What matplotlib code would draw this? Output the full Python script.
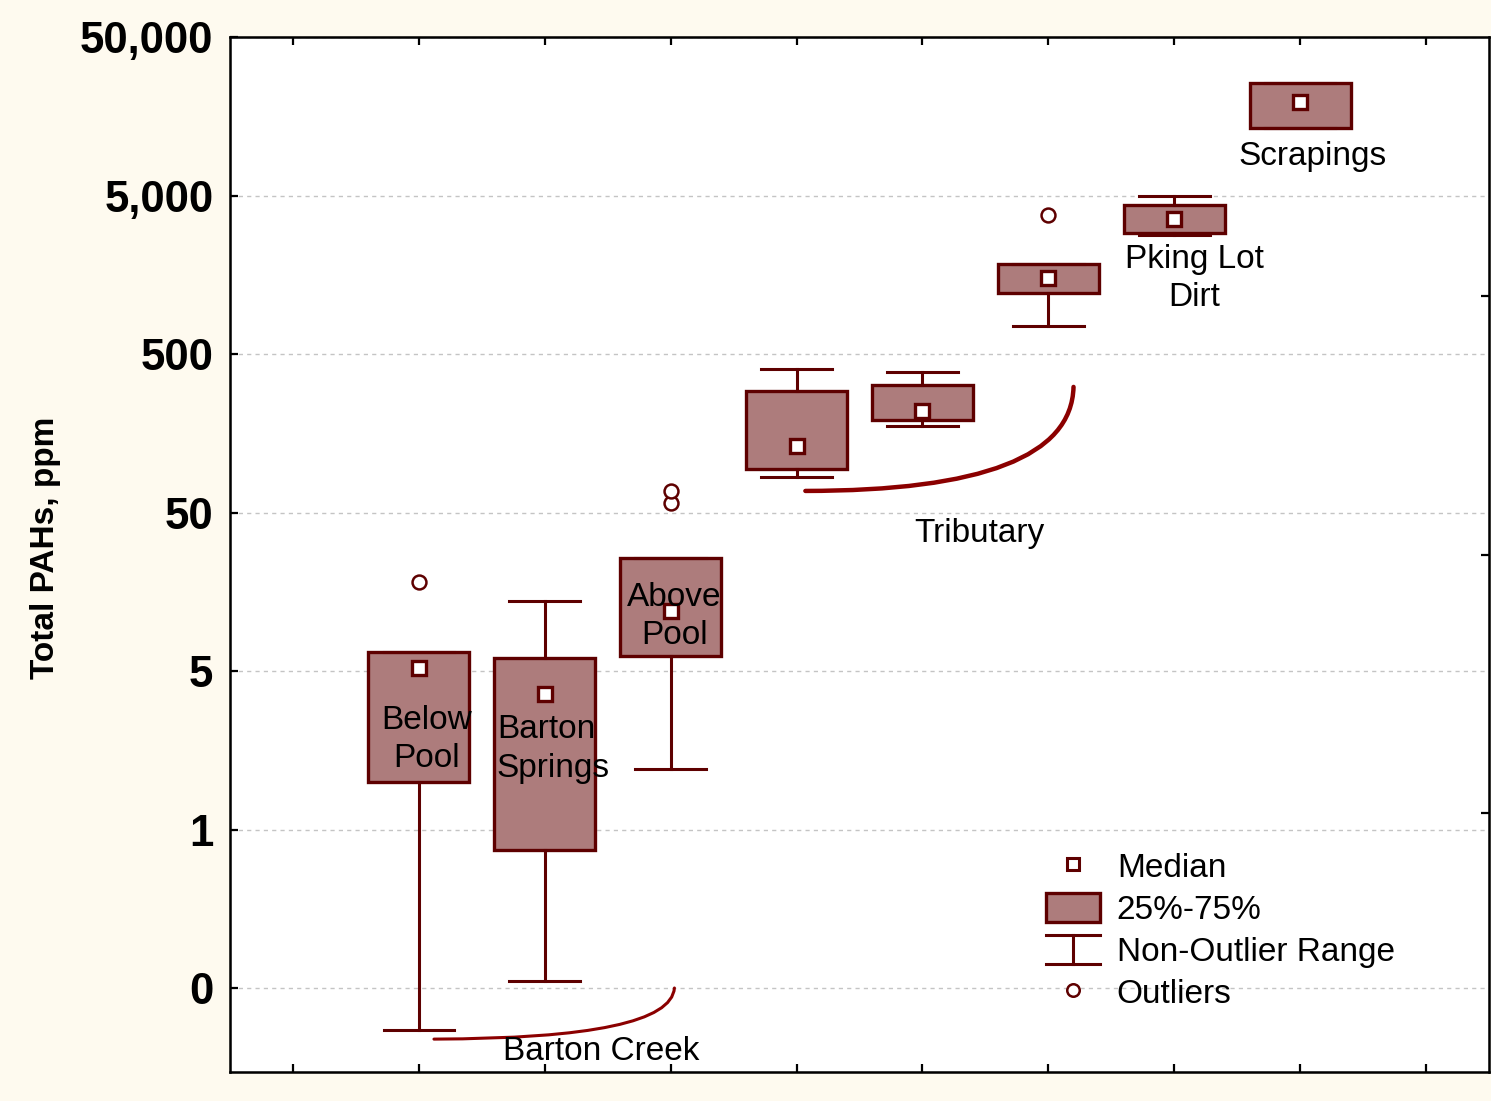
import matplotlib
matplotlib.use("Agg")
import matplotlib.pyplot as plt
from matplotlib.lines import Line2D
from matplotlib.patches import Patch, PathPatch
from matplotlib.path import Path
from matplotlib.legend_handler import HandlerBase
from matplotlib.ticker import FixedLocator, FixedFormatter, NullLocator

plt.rcParams['font.family'] = ['Liberation Sans', 'DejaVu Sans']

# Datos (ppm)
positions = [1, 2, 3, 4, 5, 6, 7, 8]
q1 = [1.0, 0.37, 6.2, 94, 192, 1213, 2900, 13300]
q3 = [6.6, 6.0, 25.8, 292, 319, 1849, 4355, 25600]
medians = [5.2, 3.6, 12.0, 131, 218, 1507, 3555, 19450]
whis_lo = [0.027, 0.055, 1.2, 84, 176, 751, 2820, 13300]
whis_hi = [6.6, 13.8, 25.8, 402, 385, 1849, 4966, 25600]
outliers = [[18.2], [], [57.4, 68.4], [], [], [3770], [], []]

ytick_vals = [0.05, 0.5, 5, 50, 500, 5000, 50000]
ytick_labels = ["0", "1", "5", "50", "500", "5,000", "50,000"]

# etiquetas: (texto, x, y, alineacion)
labels = [
    ("Below\nPool", 1.06, 1.85, "center"),
    ("Barton\nSprings", 1.62, 1.61, "left"),
    ("Above\nPool", 3.03, 11.1, "center"),
    ("Tributary", 5.45, 37.0, "center"),
    ("Pking Lot\nDirt", 7.16, 1500, "center"),
    ("Scrapings", 8.10, 8800, "center"),
    ("Barton Creek", 2.45, 0.0198, "center"),
]
# llaves curvas: (inicio, control, fin, grosor)
brackets = [
    ((1.12, 0.0238), (3.0, 0.024), (3.03, 0.05), 2.2),
    ((4.07, 68.4), (6.18, 68.4), (6.20, 310), 3.2),
]

EDGE = "#5e0000"
FILL = "#ad7c7c"
CURVE = "#8b0000"
TXT = 24

fig = plt.figure(figsize=(14.91, 11.01), dpi=100)
fig.patch.set_facecolor("#fefaef")
ax = fig.add_axes([230 / 1491, 1 - 1072 / 1101, 1259 / 1491, 1035 / 1101])
ax.set_facecolor("white")

stats = []
for i in range(len(positions)):
    stats.append({"med": medians[i], "q1": q1[i], "q3": q3[i],
                  "whislo": whis_lo[i], "whishi": whis_hi[i],
                  "fliers": outliers[i], "mean": medians[i]})

ax.bxp(stats, positions=positions, widths=0.8, patch_artist=True,
       showmeans=True, showfliers=True,
       boxprops=dict(facecolor=FILL, edgecolor=EDGE, linewidth=2.4),
       whiskerprops=dict(color=EDGE, linewidth=2.2),
       capprops=dict(color=EDGE, linewidth=2.2),
       capwidths=0.56,
       medianprops=dict(linewidth=0),
       meanprops=dict(marker="s", markersize=10, markerfacecolor="white",
                      markeredgecolor=EDGE, markeredgewidth=2.4),
       flierprops=dict(marker="o", markersize=10, markerfacecolor="white",
                       markeredgecolor=EDGE, markeredgewidth=1.8))

ax.set_yscale("log")
ax.set_ylim(0.01476, 50000)
ax.set_xlim(-0.5, 9.5)
ax.yaxis.set_major_locator(FixedLocator(ytick_vals))
ax.yaxis.set_major_formatter(FixedFormatter(ytick_labels))
ax.yaxis.set_minor_locator(NullLocator())
ax.set_xticks(range(10))
ax.set_xticklabels([])
ax.tick_params(axis="y", direction="in", length=6, width=1.6, pad=12,
               labelsize=31.5, left=True, right=False)
ax.tick_params(axis="x", direction="in", length=6, width=1.6,
               top=True, bottom=True)
for lab in ax.get_yticklabels():
    lab.set_fontweight("bold")
for s in ax.spines.values():
    s.set_linewidth(1.8)

ax.grid(axis="y", color="#c4c4c4", linestyle=(0, (3, 3)), linewidth=1)
ax.set_axisbelow(True)

ax.set_ylabel("Total PAHs, ppm", fontsize=24, fontweight="bold")
ax.yaxis.set_label_coords(-0.134, 0.506)

# marcas del eje derecho
ax2 = ax.twinx()
ax2.set_ylim(0, 4)
ax2.set_yticks([1, 2, 3])
ax2.set_yticklabels([])
ax2.tick_params(axis="y", direction="in", length=6, width=1.6)

for txt, x, y, ha in labels:
    ax.text(x, y, txt, ha=ha, va="center", fontsize=TXT, color="black",
            linespacing=1.3, zorder=5)

for p0, p1, p2, lw in brackets:
    path = Path([p0, p1, p2], [Path.MOVETO, Path.CURVE3, Path.CURVE3])
    ax.add_patch(PathPatch(path, facecolor="none", edgecolor=CURVE,
                           linewidth=lw, capstyle="round", zorder=4))


class WhiskerHandler(HandlerBase):
    def create_artists(self, legend, orig_handle, xdescent, ydescent,
                       width, height, fontsize, trans):
        x0, x1 = -xdescent, -xdescent + width
        y0, y1 = -ydescent, -ydescent + height
        xm = (x0 + x1) / 2
        arts = [Line2D([x0, x1], [y0, y0]), Line2D([x0, x1], [y1, y1]),
                Line2D([xm, xm], [y0, y1])]
        for a in arts:
            a.set_color(EDGE)
            a.set_linewidth(2.2)
            a.set_transform(trans)
        return arts


h_med = Line2D([], [], linestyle="none", marker="s", markersize=8.5,
               markerfacecolor="white", markeredgecolor=EDGE, markeredgewidth=2.2)
h_box = Patch(facecolor=FILL, edgecolor=EDGE, linewidth=2.4)
h_whis = object()
h_out = Line2D([], [], linestyle="none", marker="o", markersize=9,
               markerfacecolor="white", markeredgecolor=EDGE, markeredgewidth=1.8)

leg = ax.legend([h_med, h_box, h_whis, h_out],
                ["Median", "25%-75%", "Non-Outlier Range", "Outliers"],
                handler_map={h_whis: WhiskerHandler()},
                loc="upper left", bbox_to_anchor=(0.648, 0.2135),
                frameon=False, fontsize=TXT, handlelength=1.62,
                handleheight=0.96, handletextpad=0.51, labelspacing=0.27,
                borderpad=0, borderaxespad=0)

fig.savefig("out.png", dpi=100, facecolor=fig.get_facecolor())
